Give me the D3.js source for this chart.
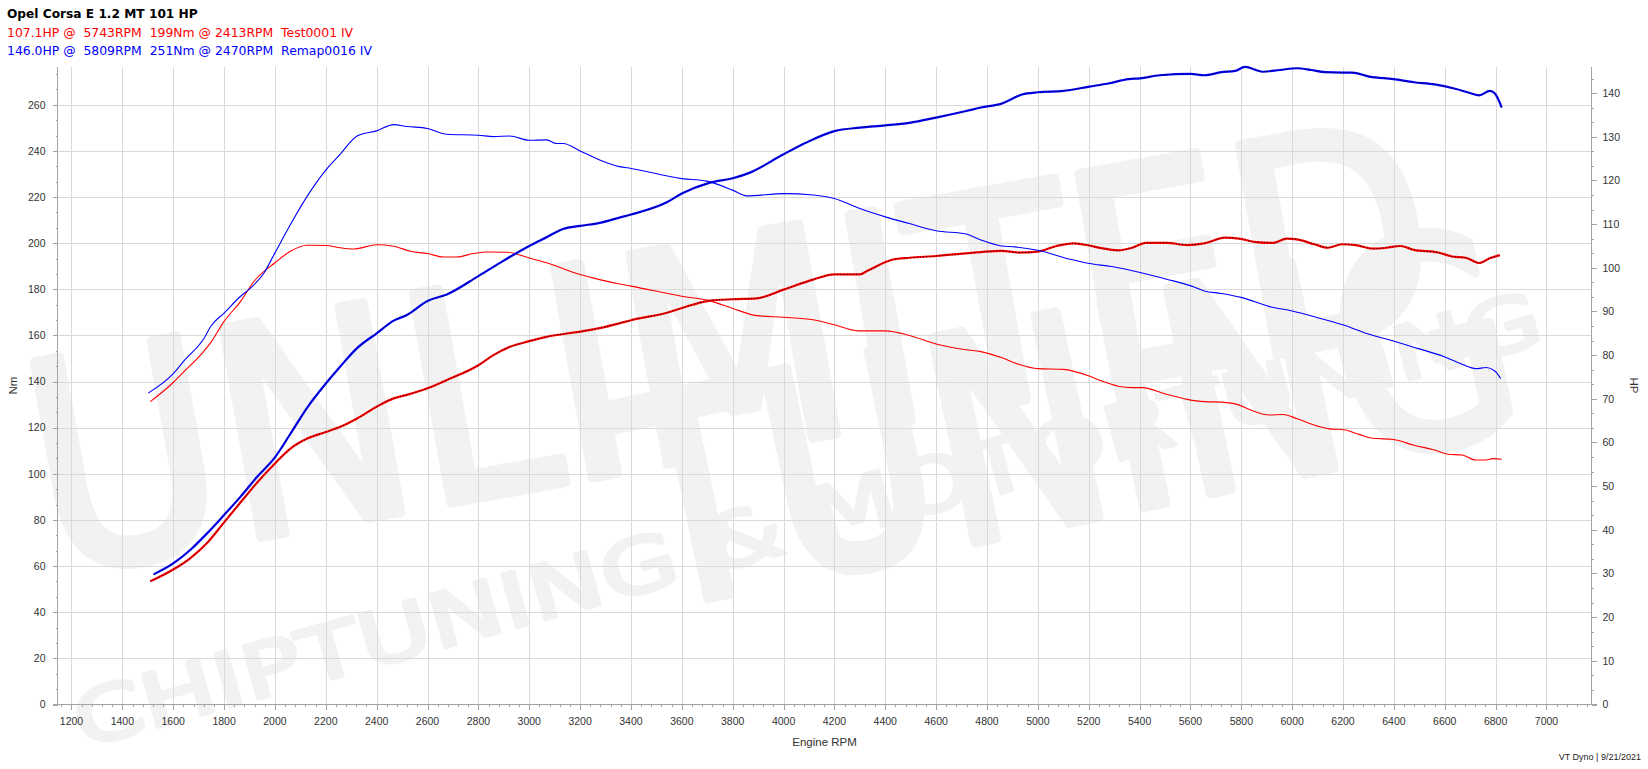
<!DOCTYPE html>
<html><head><meta charset="utf-8">
<script src="https://cdn.jsdelivr.net/npm/d3@7"></script>
<style>html,body{margin:0;padding:0;background:#fff;overflow:hidden}svg{display:block}</style>
</head><body><svg id="c" width="1648" height="769"></svg>
<script>
// ---------- data ----------
const titleText = "Opel Corsa E 1.2 MT 101 HP";
const stockLegend = "107.1HP @  5743RPM  199Nm @ 2413RPM  Test0001 IV";
const remapLegend = "146.0HP @  5809RPM  251Nm @ 2470RPM  Remap0016 IV";

const rpmTicks = [1200,1400,1600,1800,2000,2200,2400,2600,2800,3000,3200,3400,3600,3800,4000,4200,4400,4600,4800,5000,5200,5400,5600,5800,6000,6200,6400,6600,6800,7000];
const nmTicks = [0,20,40,60,80,100,120,140,160,180,200,220,240,260];
const hpTicks = [0,10,20,30,40,50,60,70,80,90,100,110,120,130,140];

// Remap torque (Nm)
const rpmRemapTq = [1502,1600,1643,1722,1748,1800,1865,1905,1957,2000,2061,2127,2200,2257,2323,2400,2467,2519,2600,2676,2800,2859,2924,3000,3068,3107,3133,3200,3277,3355,3400,3600,3698,3800,3855,4000,4116,4200,4300,4400,4495,4600,4718,4776,4857,4911,5000,5127,5202,5289,5402,5506,5602,5654,5722,5803,5911,6000,6100,6199,6303,6398,6493,6598,6668,6722,6763,6797,6820];
const remapTq = [135.0,143.4,149.1,158.9,164.0,169.7,177.0,180.6,187.1,195.8,208.1,220.4,231.7,238.6,246.5,248.7,251.4,250.6,249.7,247.2,246.8,246.2,246.5,244.6,244.8,243.2,243.2,240.0,236.1,233.2,232.4,228.0,226.9,223.0,220.5,221.5,220.9,219.4,215.0,211.4,208.5,205.4,204.0,201.4,198.8,198.4,196.9,193.0,191.2,189.9,187.3,184.4,181.5,179.3,178.2,176.4,172.5,170.6,167.7,164.6,160.5,157.6,154.4,150.8,147.5,145.6,146.1,144.6,141.3];

// Stock torque (Nm)
const rpmStockTq = [1510,1600,1643,1708,1748,1800,1865,1918,2000,2061,2127,2200,2257,2310,2400,2467,2532,2600,2663,2715,2780,2832,2911,3000,3068,3200,3277,3355,3400,3600,3711,3800,3894,4000,4116,4200,4293,4400,4495,4600,4718,4776,4857,4924,5000,5100,5202,5249,5316,5371,5411,5506,5587,5654,5722,5790,5830,5911,5965,6019,6100,6141,6209,6263,6317,6398,6479,6560,6614,6668,6722,6763,6790,6824];
const stockTq = [131.3,139.6,144.4,151.6,157.0,166.1,174.8,183.5,191.5,196.5,199.1,199.0,198.0,197.5,199.3,198.7,196.5,195.5,194.0,194.0,195.5,196.2,196.1,193.6,191.5,186.4,184.2,182.3,181.4,177.0,175.0,171.7,168.6,167.9,166.8,164.6,162.0,162.0,160.0,156.3,153.8,153.0,150.4,147.5,145.6,145.3,142.4,140.3,138.0,137.4,137.4,134.5,132.3,131.3,131.1,129.9,128.0,125.5,125.7,123.9,120.7,119.6,119.0,117.1,115.4,114.9,112.4,110.3,108.5,108.2,106.0,106.0,106.6,106.3];

// Remap power (HP)
const rpmRemapHp = [1523,1600,1669,1735,1800,1865,1931,2000,2061,2127,2200,2257,2323,2400,2467,2519,2600,2676,2800,2898,3000,3068,3133,3200,3277,3355,3400,3541,3600,3711,3800,3868,4000,4090,4200,4300,4400,4495,4600,4718,4776,4857,4938,5000,5100,5202,5276,5357,5402,5479,5602,5654,5722,5776,5814,5884,5952,6019,6074,6128,6199,6236,6303,6398,6479,6560,6641,6696,6736,6777,6797,6824];
const remapHp = [29.8,32.3,35.5,39.3,43.4,47.6,52.2,56.6,62.0,68.0,73.5,77.4,81.6,85.0,87.9,89.2,92.4,93.9,98.1,101.6,105.0,107.0,108.9,109.6,110.3,111.5,112.2,115.0,117.0,119.5,120.5,121.8,126.0,128.7,131.3,132.1,132.6,133.2,134.4,135.9,136.7,137.6,139.7,140.2,140.5,141.5,142.2,143.2,143.4,144.1,144.4,144.1,144.8,145.1,146.0,144.9,145.3,145.7,145.3,144.8,144.7,144.7,143.8,143.2,142.5,142.0,141.0,140.1,139.5,140.5,139.9,136.7];

// Stock power (HP)
const rpmStockHp = [1510,1600,1669,1735,1800,1865,1931,2000,2061,2127,2200,2257,2323,2400,2467,2519,2600,2676,2800,2859,2924,3000,3068,3200,3277,3355,3400,3541,3600,3711,3800,3894,4000,4116,4200,4300,4330,4430,4495,4600,4718,4776,4857,4924,5000,5073,5141,5202,5249,5316,5371,5425,5506,5587,5654,5736,5790,5857,5925,5979,6019,6087,6141,6195,6249,6317,6371,6425,6479,6574,6628,6682,6736,6777,6817];
const stockHp = [28.2,30.9,33.6,37.1,41.7,46.3,50.9,55.2,58.6,60.9,62.4,63.6,65.5,68.2,70.1,70.9,72.4,74.3,77.7,80.0,81.9,83.2,84.2,85.4,86.2,87.3,88.0,89.7,90.8,92.5,92.8,93.0,95.0,97.3,98.5,98.5,99.3,101.9,102.3,102.7,103.3,103.6,103.9,103.5,103.7,105.0,105.6,105.1,104.5,104.0,104.6,105.7,105.7,105.2,105.6,106.9,106.7,105.9,105.7,106.7,106.5,105.4,104.6,105.4,105.2,104.4,104.6,105.0,104.1,103.5,102.6,102.3,101.1,102.2,102.9];

// ---------- drawing ----------
const svg = d3.select("#c");
const L = 57.5, R = 1591.5, T = 66.5, B = 704.5;
const x = d3.scaleLinear().domain([1145, 7177]).range([L, R]);
const yNm = d3.scaleLinear().domain([0, 276.6]).range([B, T]);
const yHp = d3.scaleLinear().domain([0, 146.1]).range([B, T]);
const gridC = "#d9d9d9", axC = "#a3a3a3", txtC = "#333";
const tickFont = "'Liberation Sans', Arial, sans-serif";

// watermark (faint monoline logo text), sized so each text stays inside the picture
const wmC = "#f2f2f2";
const wm = svg.append("g").attr("fill", wmC).attr("stroke", wmC)
  .attr("stroke-linejoin", "round").attr("stroke-linecap", "round").attr("font-family", "'DejaVu Sans', sans-serif");
wm.append("text").attr("transform", "translate(50,575) rotate(-10.2) scale(1,1.12)")
  .attr("font-size", 260).attr("stroke-width", 9).attr("textLength", 1420).attr("lengthAdjust", "spacingAndGlyphs").text("UNLIMITED");
wm.append("text").attr("transform", "translate(650,610) rotate(-11.8) scale(1,1.23)")
  .attr("font-size", 232).attr("stroke-width", 9).attr("textLength", 900).attr("lengthAdjust", "spacingAndGlyphs").text("TUNING");
wm.append("text").attr("transform", "translate(82,748) rotate(-15.5)")
  .attr("font-size", 75).attr("stroke-width", 4).attr("textLength", 1520).attr("lengthAdjust", "spacingAndGlyphs").text("CHIPTUNING & MOTORTUNING");

// grid
const g = svg.append("g").attr("shape-rendering", "crispEdges");
g.selectAll(".vg").data(rpmTicks).join("line").attr("class", "vg")
  .attr("x1", d => Math.round(x(d)) + 0.5).attr("x2", d => Math.round(x(d)) + 0.5)
  .attr("y1", T).attr("y2", B).attr("stroke", gridC);
g.selectAll(".hg").data(nmTicks.filter(d => d > 0)).join("line").attr("class", "hg")
  .attr("x1", L).attr("x2", R)
  .attr("y1", d => Math.round(yNm(d)) + 0.5).attr("y2", d => Math.round(yNm(d)) + 0.5).attr("stroke", gridC);

// axes
const ax = svg.append("g").attr("shape-rendering", "crispEdges").attr("stroke", axC);
ax.append("line").attr("x1", L).attr("x2", L).attr("y1", T).attr("y2", B);
ax.append("line").attr("x1", R).attr("x2", R).attr("y1", T).attr("y2", B);
ax.append("line").attr("x1", L - 5).attr("x2", R + 5).attr("y1", B).attr("y2", B);

const nmMinor = d3.range(0, 277, 20 / 3).filter(v => Math.abs(v / 20 - Math.round(v / 20)) > 0.01);
const hpMinor = d3.range(0, 146, 10 / 3).filter(v => Math.abs(v / 10 - Math.round(v / 10)) > 0.01);
const rpmMinor = d3.range(1160, 7177, 40).filter(v => v % 200 !== 0);

ax.selectAll(".lt").data(nmTicks).join("line").attr("class", "lt")
  .attr("x1", L - 5).attr("x2", L).attr("y1", d => Math.round(yNm(d)) + 0.5).attr("y2", d => Math.round(yNm(d)) + 0.5);
ax.selectAll(".lm").data(nmMinor).join("line").attr("class", "lm")
  .attr("x1", L - 2).attr("x2", L).attr("y1", d => Math.round(yNm(d)) + 0.5).attr("y2", d => Math.round(yNm(d)) + 0.5);
ax.selectAll(".rt").data(hpTicks).join("line").attr("class", "rt")
  .attr("x1", R).attr("x2", R + 5).attr("y1", d => Math.round(yHp(d)) + 0.5).attr("y2", d => Math.round(yHp(d)) + 0.5);
ax.selectAll(".rm").data(hpMinor).join("line").attr("class", "rm")
  .attr("x1", R).attr("x2", R + 2).attr("y1", d => Math.round(yHp(d)) + 0.5).attr("y2", d => Math.round(yHp(d)) + 0.5);
ax.selectAll(".bt").data(rpmTicks).join("line").attr("class", "bt")
  .attr("x1", d => Math.round(x(d)) + 0.5).attr("x2", d => Math.round(x(d)) + 0.5).attr("y1", B).attr("y2", B + 5);
ax.selectAll(".bm").data(rpmMinor).join("line").attr("class", "bm")
  .attr("x1", d => Math.round(x(d)) + 0.5).attr("x2", d => Math.round(x(d)) + 0.5).attr("y1", B).attr("y2", B + 2);

const tl = svg.append("g").attr("font-family", tickFont).attr("font-size", 10.5).attr("fill", txtC);
tl.selectAll(".ly").data(nmTicks).join("text").attr("class", "ly").attr("x", 45.5).attr("y", d => yNm(d)).attr("dy", "0.36em")
  .attr("text-anchor", "end").text(d => d);
tl.selectAll(".ry").data(hpTicks).join("text").attr("class", "ry").attr("x", 1602.5).attr("y", d => yHp(d)).attr("dy", "0.36em")
  .text(d => d);
tl.selectAll(".bx").data(rpmTicks).join("text").attr("class", "bx").attr("x", d => x(d)).attr("y", 725)
  .attr("text-anchor", "middle").text(d => d);

// axis titles
const at = svg.append("g").attr("font-family", tickFont).attr("font-size", 11.5).attr("fill", txtC);
at.append("text").attr("transform", `translate(17,${(T + B) / 2}) rotate(-90)`).attr("text-anchor", "middle").text("Nm");
at.append("text").attr("transform", `translate(1630,${(T + B) / 2}) rotate(90)`).attr("text-anchor", "middle").text("HP");
at.append("text").attr("x", (L + R) / 2).attr("y", 746).attr("text-anchor", "middle").text("Engine RPM");
svg.append("text").attr("x", 1641).attr("y", 760).attr("text-anchor", "end")
  .attr("font-family", tickFont).attr("font-size", 9).attr("fill", "#222").text("VT Dyno | 9/21/2021");

// curves
const mk = (rpms, vals) => rpms.map((r, i) => [r, vals[i]]);
const lineNm = d3.line().x(d => x(d[0])).y(d => yNm(d[1])).curve(d3.curveMonotoneX);
const lineHp = d3.line().x(d => x(d[0])).y(d => yHp(d[1])).curve(d3.curveMonotoneX);
const curves = svg.append("g").attr("fill", "none");

function torque(data, col) {
  curves.append("path").attr("d", lineNm(data)).attr("stroke", col).attr("stroke-width", 1.1);
}
function power(data, col) {
  curves.append("path").attr("d", lineHp(data)).attr("stroke", col).attr("stroke-width", 2.2);
  curves.append("path").attr("d", lineHp(data)).attr("stroke", "#000").attr("stroke-width", 1).attr("stroke-dasharray", "1,2.2");
}
torque(mk(rpmStockTq, stockTq), "#ff0000");
power(mk(rpmStockHp, stockHp), "#ff0000");
torque(mk(rpmRemapTq, remapTq), "#0000ff");
power(mk(rpmRemapHp, remapHp), "#0000ff");

// title / legend (keep the double spaces)
const keep = s => s.replace(/  /g, " \u00A0");
const hd = svg.append("g").attr("font-family", "'DejaVu Sans', Verdana, sans-serif");
hd.append("text").attr("x", 7).attr("y", 18).attr("font-size", 12.2).attr("font-weight", "bold").attr("fill", "#000").text(titleText);
hd.append("text").attr("x", 7).attr("y", 36.5).attr("font-size", 12.4).attr("fill", "#ff0000").text(keep(stockLegend));
hd.append("text").attr("x", 7).attr("y", 55).attr("font-size", 12.4).attr("fill", "#0000ff").text(keep(remapLegend));
</script></body></html>
